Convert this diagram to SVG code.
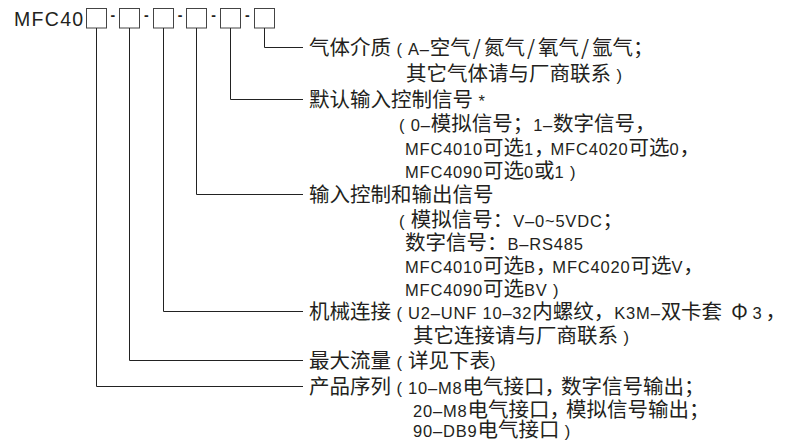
<svg xmlns="http://www.w3.org/2000/svg" width="812" height="440" viewBox="0 0 812 440">
<style>
.bg{fill:#ffffff}
.box{fill:none;stroke:#444;stroke-width:1}
.ttl{font-family:"Liberation Sans",Arial,sans-serif;font-size:19.5px;letter-spacing:1.3px;fill:#231f20}
.dash{font-family:"Liberation Sans",Arial,sans-serif;font-size:14px;font-weight:bold;fill:#231f20}
.tx{font-family:"Liberation Sans",Arial,"Noto Sans CJK SC",sans-serif;font-size:16.5px;letter-spacing:0.8px;fill:#231f20}
.cjk{font-family:"Noto Sans CJK SC","Noto Sans CJK JP",sans-serif;font-size:20.5px;letter-spacing:0px}
.p{letter-spacing:-4px}
.sl{letter-spacing:3px}
.phi{letter-spacing:5px}
.con{fill:none;stroke:#222;stroke-width:1}
</style>
<rect class="bg" x="0" y="0" width="812" height="440"/>
<g id="code">
  <text class="ttl" x="14" y="26">MFC40</text>
  <g id="box1"><rect class="box" x="86.5" y="8.5" width="20" height="19.5"/></g>
  <text class="dash" x="112.8" y="20" text-anchor="middle">-</text>
  <g id="box2"><rect class="box" x="119.5" y="8.5" width="20" height="19.5"/></g>
  <text class="dash" x="146.3" y="20" text-anchor="middle">-</text>
  <g id="box3"><rect class="box" x="153.5" y="8.5" width="20" height="19.5"/></g>
  <text class="dash" x="180" y="20" text-anchor="middle">-</text>
  <g id="box4"><rect class="box" x="186.5" y="8.5" width="20" height="19.5"/></g>
  <text class="dash" x="213.5" y="20" text-anchor="middle">-</text>
  <g id="box5"><rect class="box" x="220.5" y="8.5" width="20" height="19.5"/></g>
  <text class="dash" x="247.3" y="20" text-anchor="middle">-</text>
  <g id="box6"><rect class="box" x="254.5" y="8.5" width="20" height="19.5"/></g>
</g>
<g id="connectors">
  <path class="con" d="M264.5 28V47.5H303"/>
  <path class="con" d="M230.5 28V99.5H303"/>
  <path class="con" d="M196.5 28V194.5H303"/>
  <path class="con" d="M163.5 28V311.5H303"/>
  <path class="con" d="M129.5 28V360.5H303"/>
  <path class="con" d="M96.5 28V386.5H303"/>
</g>
<g id="gas">
  <text class="tx" x="309" y="55"><tspan class="cjk">气体介质</tspan> ( A–<tspan class="cjk">空气<tspan class="sl" dx="2">/</tspan>氮气<tspan class="sl" dx="2">/</tspan>氧气<tspan class="sl" dx="2">/</tspan>氩气；</tspan></text>
  <text class="tx" x="406" y="80.5"><tspan class="cjk">其它气体请与厂商联系</tspan> )</text>
</g>
<g id="default-signal">
  <text class="tx" x="309" y="107"><tspan class="cjk">默认输入控制信号</tspan> *</text>
  <text class="tx" x="399" y="131">( 0–<tspan class="cjk">模拟信号；</tspan>1–<tspan class="cjk">数字信号，</tspan></text>
  <text class="tx" x="405" y="155">MFC4010<tspan class="cjk">可选</tspan>1<tspan class="cjk p">，</tspan>MFC4020<tspan class="cjk">可选</tspan>0<tspan class="cjk">，</tspan></text>
  <text class="tx" x="405" y="178">MFC4090<tspan class="cjk">可选</tspan>0<tspan class="cjk">或</tspan>1 )</text>
</g>
<g id="io-signal">
  <text class="tx" x="309" y="202"><tspan class="cjk">输入控制和输出信号</tspan></text>
  <text class="tx" x="399" y="226.5">( <tspan class="cjk">模拟信号：</tspan>V–0~5VDC<tspan class="cjk">；</tspan></text>
  <text class="tx" x="405" y="250"><tspan class="cjk">数字信号：</tspan>B–RS485</text>
  <text class="tx" x="405" y="273">MFC4010<tspan class="cjk">可选</tspan>B<tspan class="cjk p">，</tspan>MFC4020<tspan class="cjk">可选</tspan>V<tspan class="cjk">，</tspan></text>
  <text class="tx" x="405" y="296">MFC4090<tspan class="cjk">可选</tspan>BV )</text>
</g>
<g id="mechanical">
  <text class="tx" x="309" y="319"><tspan class="cjk">机械连接</tspan> ( U2–UNF 10–32<tspan class="cjk">内螺纹，</tspan>K3M–<tspan class="cjk">双卡套</tspan><tspan class="cjk phi" dx="9">Φ</tspan>3<tspan class="cjk" dx="3">，</tspan></text>
  <text class="tx" x="413" y="343"><tspan class="cjk">其它连接请与厂商联系</tspan> )</text>
</g>
<g id="max-flow">
  <text class="tx" x="309" y="368"><tspan class="cjk">最大流量</tspan> ( <tspan class="cjk">详见下表</tspan>)</text>
</g>
<g id="series">
  <text class="tx" x="309" y="394"><tspan class="cjk">产品序列</tspan> ( 10–M8<tspan class="cjk">电气接口<tspan class="p">，</tspan>数字信号输出；</tspan></text>
  <text class="tx" x="413" y="416.5">20–M8<tspan class="cjk">电气接口<tspan class="p">，</tspan>模拟信号输出；</tspan></text>
  <text class="tx" x="413" y="436.5">90–DB9<tspan class="cjk">电气接口</tspan> )</text>
</g>
</svg>
